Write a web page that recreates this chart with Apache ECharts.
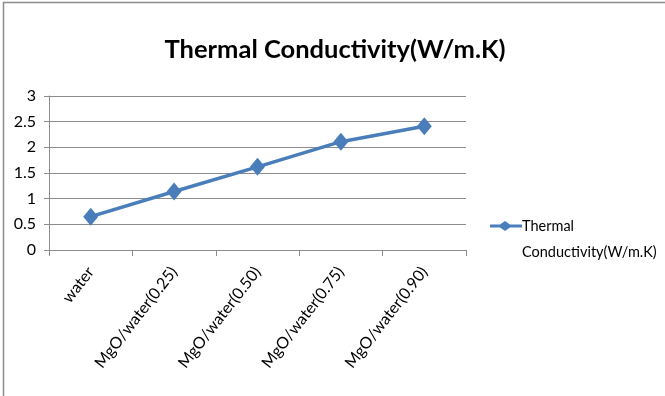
<!DOCTYPE html>
<html>
<head>
<meta charset="utf-8">
<style>
  html, body { margin: 0; padding: 0; background: #fff; }
  #chart { width: 665px; height: 396px; }
</style>
<script src="https://cdn.jsdelivr.net/npm/echarts@6/dist/echarts.min.js"></script>
</head>
<body>
<div id="chart"></div>
<script>
// Thermal conductivity of water and MgO/water nanofluids
const categories = ['water', 'MgO/water(0.25)', 'MgO/water(0.50)', 'MgO/water(0.75)', 'MgO/water(0.90)'];
const conductivity = [0.65, 1.14, 1.62, 2.11, 2.41];
const seriesName = 'Thermal Conductivity(W/m.K)';
const titleText = 'Thermal Conductivity(W/m.K)';

const FONT = 'Lato, "Open Sans", sans-serif';
const chart = echarts.init(document.getElementById('chart'), null, { renderer: 'canvas' });

chart.setOption({
  animation: false,
  backgroundColor: '#ffffff',
  graphic: [{
    type: 'rect',
    shape: { x: 3.5, y: 2.5, width: 700, height: 420 },
    style: { fill: 'none', stroke: '#8c8c8c', lineWidth: 1.5 },
    silent: true
  }],
  title: {
    text: titleText,
    left: 330,
    textAlign: 'center',
    top: 32,
    textStyle: { fontFamily: FONT, fontWeight: 'bold', fontSize: 25.5, color: '#000' }
  },
  legend: {
    left: 490,
    top: 187,
    padding: 0,
    itemWidth: 32,
    itemHeight: 10,
    itemGap: 0,
    // blank first line keeps the marker level with "Thermal"
    formatter: () => '\nThermal\nConductivity(W/m.K)',
    textStyle: { fontFamily: FONT, fontSize: 14.5, color: '#000', lineHeight: 26, padding: [0, 0, 0, -5] },
    data: [{ name: seriesName, icon: 'path://M0,3.5 L10,3.5 L15,0 L20,3.5 L32,3.5 L32,6.5 L20,6.5 L15,10 L10,6.5 L0,6.5 Z' }]
  },
  grid: { left: 49, right: 199, top: 96, bottom: 146, containLabel: false },
  xAxis: {
    type: 'category',
    data: categories,
    boundaryGap: true,
    axisLine: { lineStyle: { color: '#8c8c8c', width: 1 } },
    axisTick: { show: true, length: 6, interval: 0, lineStyle: { color: '#8c8c8c' } },
    axisLabel: {
      interval: 0,
      rotate: 52,
      margin: 19,
      fontFamily: FONT,
      fontSize: 16,
      color: '#000'
    }
  },
  yAxis: {
    type: 'value',
    min: 0,
    max: 3,
    interval: 0.5,
    axisLine: { show: true, lineStyle: { color: '#8c8c8c', width: 1 } },
    axisTick: { show: true, length: 5, lineStyle: { color: '#8c8c8c' } },
    splitLine: { lineStyle: { color: '#8c8c8c', width: 1 } },
    axisLabel: { margin: 13, fontFamily: FONT, fontSize: 16, color: '#000' }
  },
  series: [{
    name: seriesName,
    type: 'line',
    data: conductivity,
    symbol: 'diamond',
    symbolSize: [15, 18],
    lineStyle: { color: '#4a7ebb', width: 3.5 },
    itemStyle: { color: '#4a7ebb' }
  }]
});
</script>
</body>
</html>
